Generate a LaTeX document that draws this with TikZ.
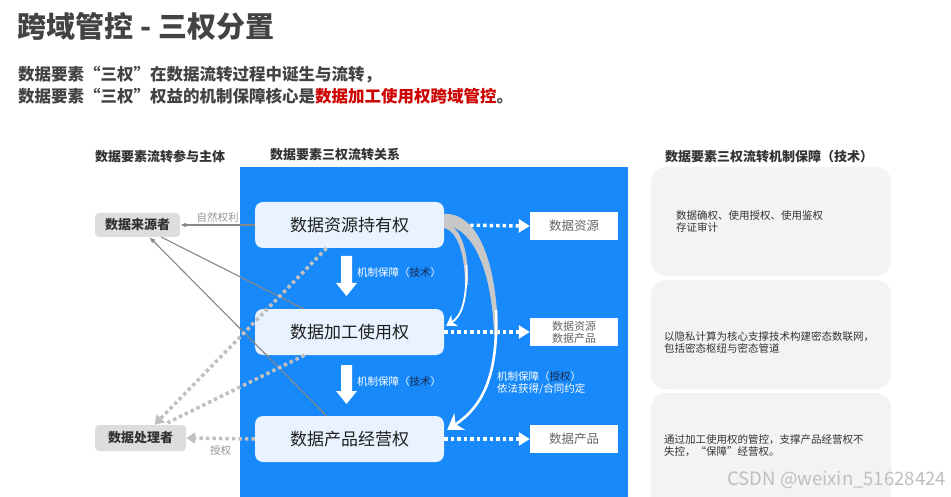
\documentclass[tikz,border=0pt]{standalone}
\usepackage{fontspec}
\setmainfont{Noto Sans CJK SC}
\usetikzlibrary{arrows.meta,calc}
\definecolor{bgblue}{HTML}{1789FB}
\definecolor{nodefill}{HTML}{E8F3FF}
\definecolor{leftfill}{HTML}{DDDDDD}
\definecolor{panelfill}{HTML}{F3F3F3}
\definecolor{titletext}{HTML}{333333}
\definecolor{keyred}{HTML}{CC0000}
\definecolor{darklabel}{HTML}{1A2B4A}
\definecolor{linegray}{HTML}{888888}
\definecolor{dotgray}{HTML}{C0C0C0}
\definecolor{boxtext}{HTML}{666666}
\definecolor{ribbongray}{HTML}{C8C8C8}
\newcommand{\fs}[1]{\fontsize{#1}{#1}\selectfont}
\begin{document}
\begin{tikzpicture}[x=1pt,y=-1pt,
  rightsnode/.style={draw=none,fill=nodefill,rounded corners=8pt,minimum width=189pt,minimum height=46pt,inner sep=0pt,font=\fs{17},text=black!88},
  actornode/.style={fill=leftfill,rounded corners=4pt,inner sep=0pt,font=\fs{13}\bfseries,text=titletext},
  outbox/.style={fill=white,minimum width=88pt,minimum height=28pt,inner sep=0pt,text=boxtext},
  panel/.style={fill=panelfill,rounded corners=15pt,minimum width=240pt,inner sep=0pt},
  header/.style={anchor=west,font=\fs{13}\bfseries,text=titletext,inner sep=0pt},
  paneltext/.style={anchor=west,align=left,font=\fs{10.5},text=titletext,inner sep=0pt},
  bluelabel/.style={anchor=west,align=left,font=\fs{10.5},text=white,inner sep=0pt},
  grayline/.style={draw=linegray,line width=1.1pt},
  graytip/.style={-{Latex[length=6pt,width=5pt]}},
  dotline/.style={draw=dotgray,line width=3.5pt,dash pattern=on 3.5pt off 3pt},
  dottip/.style={-{Triangle[length=9pt,width=11pt,fill=dotgray]}},
  whitedot/.style={draw=white,line width=3.5pt,dash pattern=on 3.5pt off 3pt,-{Triangle[length=11pt,width=13pt]}},
  blockarrow/.style={fill=white,draw=none}
]
\useasboundingbox (0,0) rectangle (951,497);

% title and subtitle
\node[anchor=west,inner sep=0pt,font=\fs{29}\bfseries,text=titletext!92!white] (title) at (17,26) {跨域管控\hspace{7pt}-\hspace{7pt}三权分置};
\node[anchor=west,inner sep=0pt,font=\fs{16.5}\bfseries,text=titletext!92!white,align=left] (sub1) at (18,75) {数据要素“三权”在数据流转过程中诞生与流转，};
\node[anchor=west,inner sep=0pt,font=\fs{16.5}\bfseries,text=titletext!92!white,align=left] (sub2) at (18,96) {数据要素“三权”权益的机制保障核心是{\color{keyred}数据加工使用权跨域管控}。};

% headers
\node[header] (h1) at (95,157) {数据要素流转参与主体};
\node[header] (h2) at (270,155) {数据要素三权流转关系};
\node[header] (h3) at (665,157) {数据要素三权流转机制保障（技术）};

% blue background
\fill[bgblue] (240,167) rectangle (628,497);

% right panels
\node[panel,minimum height=109pt] (p1) at (771,221.5) {};
\node[panel,minimum height=109pt] (p2) at (771,334.5) {};
\path[fill=panelfill,rounded corners=15pt] (651,393) rectangle (891,510);
\node[paneltext] (t1) at (676,221.5) {数据确权、使用授权、使用鉴权\\[2pt]存证审计};
\node[paneltext] (t2) at (664,342.5) {以隐私计算为核心支撑技术构建密态数联网，\\[2pt]包括密态枢纽与密态管道};
\node[paneltext] (t3) at (664,445.5) {通过加工使用权的管控，支撑产品经营权不\\[2pt]失控，“保障”经营权。};

% main nodes
\node[rightsnode] (n1) at (349.5,225) {数据资源持有权};
\node[rightsnode] (n2) at (349.5,332) {数据加工使用权};
\node[rightsnode] (n3) at (349.5,439) {数据产品经营权};

% output boxes
\node[outbox,font=\fs{12.5}] (r1) at (574,226) {数据资源};
\node[outbox,font=\fs{11},align=center] (r2) at (574,332) {数据资源\\[1pt]数据产品};
\node[outbox,font=\fs{12.5}] (r3) at (574,439) {数据产品};

% actors
\node[actornode,minimum width=85pt,minimum height=24pt] (src) at (137.5,225) {数据来源者};
\node[actornode,minimum width=91pt,minimum height=26pt] (proc) at (140.5,438) {数据处理者};

% block arrows (down)
\path[blockarrow] (341,256) -- (352,256) -- (352,283) -- (357,283) -- (346.5,296) -- (336,283) -- (341,283) -- cycle;
\path[blockarrow] (341,365) -- (352,365) -- (352,391) -- (357,391) -- (346.5,404) -- (336,391) -- (341,391) -- cycle;
\node[bluelabel] (l1) at (357,273) {机制保障（{\color{darklabel}技术}）};
\node[bluelabel] (l2) at (357,382) {机制保障（{\color{darklabel}技术}）};
\node[bluelabel] (l3) at (497,383) {机制保障（{\color{darklabel}授权}）\\[1pt]依法获得/合同约定};

% dotted white arrows to output boxes
\draw[whitedot] (n1.east) -- (r1.west);
\draw[whitedot] (n2.east) -- (r2.west);
\draw[whitedot] (n3.east) -- (r3.west);

% big curved arrow (持有权 -> 经营权)
\coordinate (bstart) at ($(n1.north east)+(0,12)$);
\coordinate (bend) at ($(n3.north east)+(3,14)$);
\fill[ribbongray] (bstart) .. controls (478,213) and (497,262) .. (498,335)
   -- (494,335) .. controls (492,272) and (474,228) .. ($(n1.north east)+(0,23)$) -- cycle;
\draw[white,line width=2.6pt,-{Stealth[length=15pt,width=20pt]}]
   (496,310) .. controls (498,372) and (485,405) .. (bend);

% small curved arrow (持有权 -> 使用权)
\coordinate (send) at ($(n2.north east)+(2,17)$);
\fill[ribbongray] ($(n1.north east)+(0,22)$) .. controls (460,224) and (469,250) .. (468,285)
   -- (465,285) .. controls (465,255) and (458,232) .. ($(n1.north east)+(0,26)$) -- cycle;
\draw[white,line width=1.8pt,-{Stealth[length=10pt,width=13pt]}]
   (466.5,265) .. controls (467,300) and (462,316) .. (send);

% left gray connectors
\draw[grayline,graytip] (n1.west) -- node[above=2pt,font=\fs{10.5},text=linegray!90!white,inner sep=0pt] (lab1) {自然权利} (src.east);
\coordinate (a2) at ($(n2.north)+(-46,0)$);
\coordinate (s2) at ($(src.south)+(24,0)$);
\draw[grayline] (a2) -- (s2);
\coordinate (a3) at ($(n3.north)+(-23,0)$);
\coordinate (s3) at ($(src.south)+(12,0)$);
\draw[grayline,graytip] (a3) -- (s3);

% dotted gray connectors to processor
\coordinate (d1) at ($(n1.south)+(-23,0)$);
\coordinate (p1t) at ($(proc.north)+(14,0)$);
\draw[dotline,dottip] (d1) -- (p1t);
\coordinate (d2) at ($(n2.south)+(-45,0)$);
\coordinate (p2t) at ($(proc.north)+(27,-2)$);
\draw[dotline] (d2) -- (p2t);
\draw[dotline,dottip] (n3.west) -- node[below=5pt,font=\fs{10.5},text=linegray!90!white,inner sep=0pt] (lab2) {授权} (proc.east);

% watermark
\node[anchor=east,inner sep=0pt,font=\fs{18.5},text=black!25] (wm) at (946,480) {CSDN @weixin\_51628424};
\end{tikzpicture}
\end{document}
